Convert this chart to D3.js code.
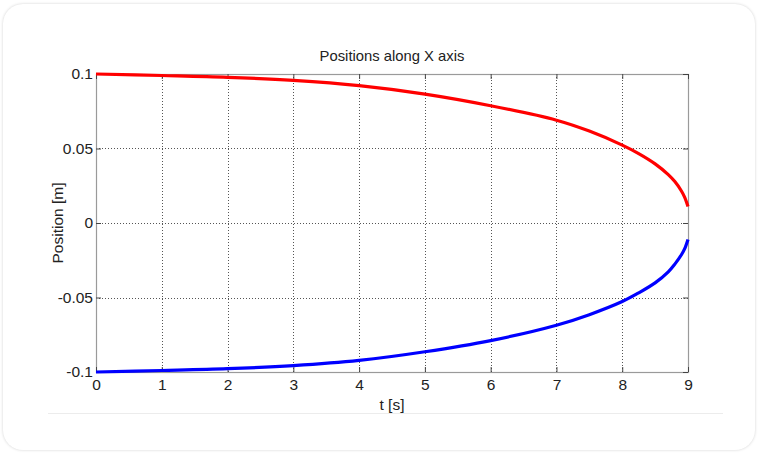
<!DOCTYPE html>
<html>
<head>
<meta charset="utf-8">
<script src="https://cdn.jsdelivr.net/npm/d3@7"></script>
<style>
  html, body { margin: 0; padding: 0; background: #fff; }
  #card {
    position: absolute; left: 3px; top: 4px; width: 752px; height: 446px;
    border-radius: 20px; background: #fff;
    box-shadow: 0 0 3px rgba(0,0,0,0.18);
  }
  svg { position: absolute; left: 0; top: 0; }
  text { font-family: "Liberation Sans", Arial, sans-serif; fill: #222; }
</style>
</head>
<body>
<div id="card"></div>
<div id="chart"></div>
<script>
// values
const times = [0, 1, 2, 3, 4, 5, 6, 7, 7.5, 8, 8.25, 8.5, 8.7, 8.8, 8.9, 8.95, 9];
const redPos = [0.1, 0.0990, 0.0978, 0.0957, 0.0922, 0.0865, 0.0787, 0.0690, 0.0617, 0.0523, 0.0466, 0.0397, 0.0325, 0.0278, 0.0215, 0.0172, 0.011];
const bluePos = [-0.1, -0.0990, -0.0978, -0.0957, -0.0922, -0.0864, -0.0789, -0.0686, -0.0615, -0.0527, -0.0469, -0.0402, -0.0328, -0.0276, -0.0213, -0.0172, -0.011];
const xTicks = [0, 1, 2, 3, 4, 5, 6, 7, 8, 9];
const yTicks = [-0.1, -0.05, 0, 0.05, 0.1];
const yTickLabels = ["-0.1", "-0.05", "0", "0.05", "0.1"];

const width = 759, height = 454;
const margin = { top: 74, right: 71, bottom: 82, left: 96 };

const svg = d3.select("#chart").append("svg")
  .attr("width", width)
  .attr("height", height);

const x = d3.scaleLinear().domain([0, 9]).range([margin.left, width - margin.right]);
const y = d3.scaleLinear().domain([-0.1, 0.1]).range([height - margin.bottom, margin.top]);

// faint separator under the chart
svg.append("line")
  .attr("x1", 48).attr("x2", 723).attr("y1", 413.5).attr("y2", 413.5)
  .attr("stroke", "#ececec");

// grid
const grid = svg.append("g").attr("stroke", "#555").attr("stroke-dasharray", "1,2").attr("stroke-width", 1);
grid.selectAll(".gx").data(xTicks.slice(1, -1)).join("line")
  .attr("x1", d => Math.round(x(d)) + 0.5).attr("x2", d => Math.round(x(d)) + 0.5)
  .attr("y1", y(0.1)).attr("y2", y(-0.1));
grid.selectAll(".gy").data(yTicks.slice(1, -1)).join("line")
  .attr("y1", d => Math.round(y(d)) + 0.5).attr("y2", d => Math.round(y(d)) + 0.5)
  .attr("x1", x(0)).attr("x2", x(9));

// box
svg.append("rect")
  .attr("x", x(0) + 0.5).attr("y", y(0.1) + 0.5)
  .attr("width", x(9) - x(0)).attr("height", y(-0.1) - y(0.1))
  .attr("fill", "none").attr("stroke", "#9a9a9a").attr("stroke-width", 1.2);

// axes with inward ticks
const xAxis = svg.append("g")
  .attr("transform", `translate(0,${y(-0.1)})`)
  .call(d3.axisBottom(x).tickValues(xTicks).tickFormat(d3.format("d")).tickSizeInner(-5).tickSizeOuter(0).tickPadding(9));
const xAxisTop = svg.append("g")
  .attr("transform", `translate(0,${y(0.1)})`)
  .call(d3.axisTop(x).tickValues(xTicks).tickFormat("").tickSizeInner(-5).tickSizeOuter(0));
const yAxis = svg.append("g")
  .attr("transform", `translate(${x(0)},0)`)
  .call(d3.axisLeft(y).tickValues(yTicks).tickFormat((d, i) => yTickLabels[i]).tickSizeInner(-5).tickSizeOuter(0).tickPadding(3));
const yAxisRight = svg.append("g")
  .attr("transform", `translate(${x(9)},0)`)
  .call(d3.axisRight(y).tickValues(yTicks).tickFormat("").tickSizeInner(-5).tickSizeOuter(0));

[xAxis, xAxisTop, yAxis, yAxisRight].forEach(g => {
  g.select(".domain").remove();
  g.selectAll(".tick line").attr("stroke", "#444");
  g.selectAll("text").attr("font-size", 15.5).attr("fill", "#222");
});
xAxis.selectAll("text").attr("dy", "0.6em");

// curves
const line = d3.line()
  .x((d, i) => x(times[i]))
  .y(d => y(d))
  .curve(d3.curveCatmullRom.alpha(0.5));

svg.append("path").datum(redPos)
  .attr("fill", "none").attr("stroke", "#ff0000").attr("stroke-width", 3.2)
  .attr("d", line);
svg.append("path").datum(bluePos)
  .attr("fill", "none").attr("stroke", "#0000ff").attr("stroke-width", 3.2)
  .attr("d", line);

// labels
svg.append("text")
  .attr("x", (x(0) + x(9)) / 2).attr("y", 61)
  .attr("text-anchor", "middle").attr("font-size", 14.8)
  .text("Positions along X axis");
svg.append("text")
  .attr("x", (x(0) + x(9)) / 2).attr("y", 410)
  .attr("text-anchor", "middle").attr("font-size", 15.5)
  .text("t [s]");
svg.append("text")
  .attr("transform", `translate(63,${y(0)}) rotate(-90)`)
  .attr("text-anchor", "middle").attr("font-size", 15.5)
  .text("Position [m]");
</script>
</body>
</html>
